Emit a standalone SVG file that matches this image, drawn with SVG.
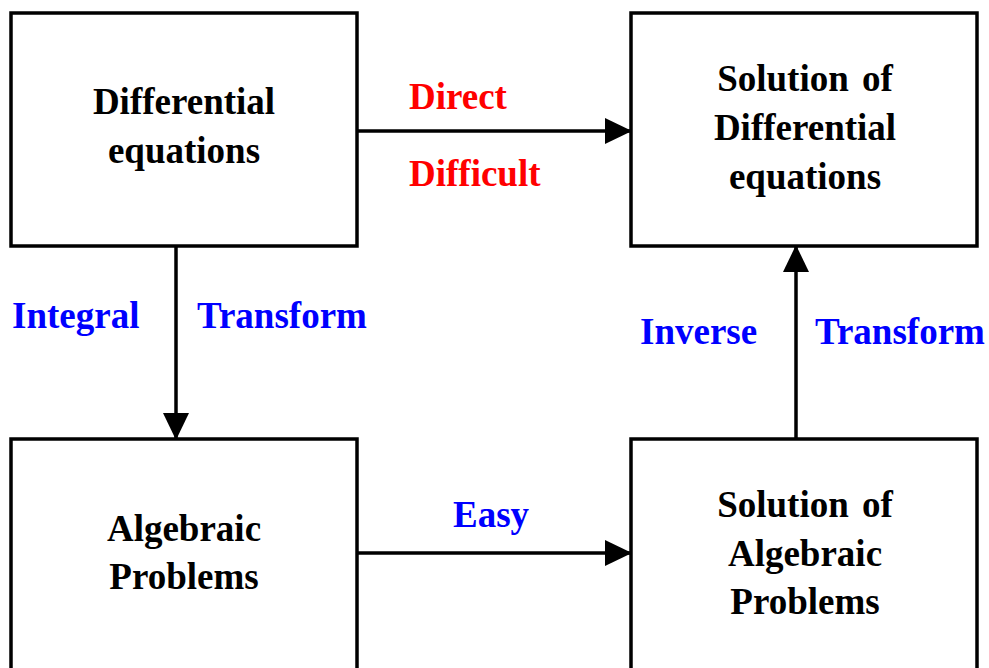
<svg xmlns="http://www.w3.org/2000/svg" width="989" height="668" viewBox="0 0 989 668">
<style>
.box{fill:#fff;stroke:#000;stroke-width:3.5}
.t{font-family:"Liberation Serif","Times New Roman",serif;font-weight:bold;font-size:37px}
.c{text-anchor:middle;fill:#000}
.red{fill:#ff0000}
.blue{fill:#0000ff}
.ln{stroke:#000;stroke-width:3.5;fill:none}
</style>
<defs>
<marker id="ah" markerUnits="userSpaceOnUse" markerWidth="28" markerHeight="28" viewBox="0 0 28 28" refX="26" refY="14" orient="auto">
<path d="M0,1 L27,14 L0,27 Z" fill="#000"/>
</marker>
</defs>
<rect width="989" height="668" fill="#fff"/>
<g id="connectors">
<line class="ln" x1="357" y1="131" x2="631" y2="131" marker-end="url(#ah)"/>
<line class="ln" x1="176" y1="246" x2="176" y2="439" marker-end="url(#ah)"/>
<line class="ln" x1="796" y1="439" x2="796" y2="246" marker-end="url(#ah)"/>
<line class="ln" x1="357" y1="553" x2="631" y2="553" marker-end="url(#ah)"/>
</g>
<g id="n1">
<rect class="box" x="11" y="13" width="346" height="233"/>
<text class="t c" x="184" y="114">Differential</text>
<text class="t c" x="184" y="163">equations</text>
</g>
<g id="n2">
<rect class="box" x="631" y="13" width="346" height="233"/>
<text class="t c" x="805" y="91" word-spacing="4">Solution of</text>
<text class="t c" x="805" y="140">Differential</text>
<text class="t c" x="805" y="189">equations</text>
</g>
<g id="n3">
<rect class="box" x="11" y="439" width="346" height="240"/>
<text class="t c" x="184" y="541">Algebraic</text>
<text class="t c" x="184" y="589">Problems</text>
</g>
<g id="n4">
<rect class="box" x="631" y="439" width="346" height="240"/>
<text class="t c" x="805" y="517" word-spacing="4">Solution of</text>
<text class="t c" x="805" y="566">Algebraic</text>
<text class="t c" x="805" y="614">Problems</text>
</g>
<g id="labels">
<text class="t red" x="409" y="109">Direct</text>
<text class="t red" x="409" y="186">Difficult</text>
<text class="t blue" x="12" y="328">Integral</text>
<text class="t blue" x="197" y="328">Transform</text>
<text class="t blue" x="640" y="344">Inverse</text>
<text class="t blue" x="815" y="344">Transform</text>
<text class="t blue" x="453" y="527">Easy</text>
</g>
</svg>
